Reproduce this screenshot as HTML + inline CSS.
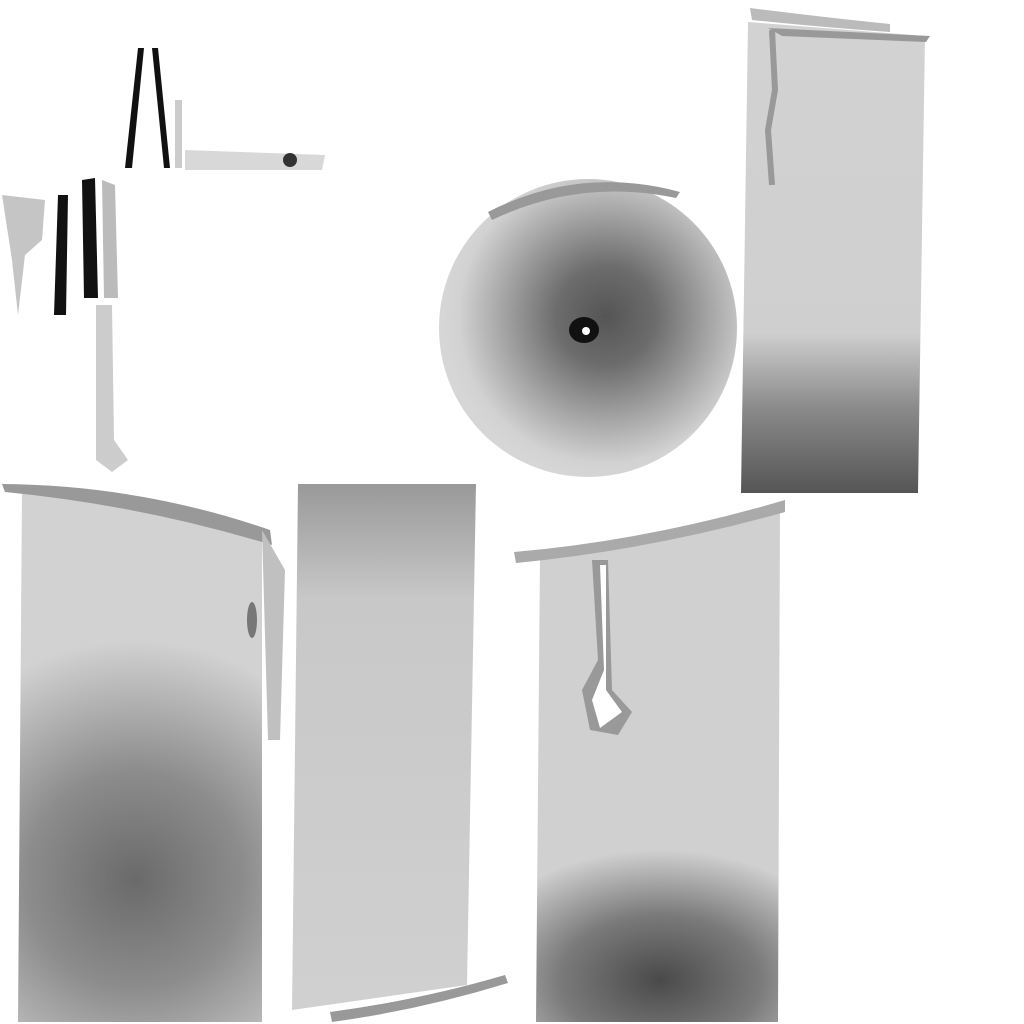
<!DOCTYPE html>
<html><head><meta charset="utf-8"><style>
html,body{margin:0;padding:0;background:#fff;width:1024px;height:1024px;overflow:hidden}
svg{display:block}
</style></head><body>
<svg width="1024" height="1024" viewBox="0 0 1024 1024" xmlns="http://www.w3.org/2000/svg">
<defs>
<linearGradient id="gTR" x1="0" y1="0" x2="0" y2="1">
<stop offset="0" stop-color="#d2d2d2"/><stop offset="0.66" stop-color="#cfcfcf"/><stop offset="0.82" stop-color="#8a8a8a"/><stop offset="1" stop-color="#555"/></linearGradient>
<radialGradient id="gC" cx="0.56" cy="0.46" r="0.55">
<stop offset="0" stop-color="#555"/><stop offset="0.3" stop-color="#6c6c6c"/><stop offset="0.65" stop-color="#a8a8a8"/><stop offset="0.9" stop-color="#d2d2d2"/><stop offset="1" stop-color="#d6d6d6"/></radialGradient>
<radialGradient id="gBL" cx="135" cy="880" r="240" gradientUnits="userSpaceOnUse">
<stop offset="0" stop-color="#6a6a6a"/><stop offset="0.45" stop-color="#8c8c8c"/><stop offset="1" stop-color="#d2d2d2"/></radialGradient>
<linearGradient id="gM" x1="0" y1="0" x2="0" y2="1">
<stop offset="0" stop-color="#999"/><stop offset="0.22" stop-color="#c8c8c8"/><stop offset="1" stop-color="#d0d0d0"/></linearGradient>
<radialGradient id="gBR" cx="660" cy="980" r="200" gradientUnits="userSpaceOnUse" gradientTransform="translate(660 980) scale(1 0.65) translate(-660 -980)">
<stop offset="0" stop-color="#4a4a4a"/><stop offset="0.5" stop-color="#7a7a7a"/><stop offset="1" stop-color="#d0d0d0"/></radialGradient>
</defs>
<g>
<polygon points="748,22 925,36 918,493 741,493" fill="url(#gTR)"/>
<path d="M750,8 Q830,18 890,24 L890,32 Q830,28 752,20 Z" fill="#bbb"/>
<path d="M768,28 L930,36 L926,42 L782,36 Z" fill="#999"/>
<path d="M772,30 L775,90 L768,130 L772,185" stroke="#999" stroke-width="6" fill="none"/>
</g>
<g>
<circle cx="588" cy="328" r="149" fill="url(#gC)"/>
<ellipse cx="584" cy="330" rx="15" ry="13" fill="#111"/>
<circle cx="586" cy="331" r="4" fill="#fff"/>
<path d="M488,212 Q580,165 680,192 L676,198 Q580,178 492,220 Z" fill="#999"/>
</g>
<g>
<polygon points="22,492 262,528 262,1022 18,1022" fill="url(#gBL)"/>
<path d="M2,484 Q140,485 270,530 L272,545 Q140,505 5,492 Z" fill="#999"/>
<path d="M262,530 L285,570 L280,740 L268,740 Z" fill="#c0c0c0"/>
<ellipse cx="252" cy="620" rx="5" ry="18" fill="#777"/>
</g>
<g>
<polygon points="298,484 476,484 467,985 292,1010" fill="url(#gM)"/>
<path d="M330,1012 Q420,1000 505,975 L508,983 Q420,1010 332,1022 Z" fill="#999"/>
</g>
<g>
<polygon points="540,555 780,508 778,1022 536,1022" fill="url(#gBR)"/>
<path d="M514,552 Q650,540 785,500 L785,512 Q650,550 516,563 Z" fill="#aaa"/>
<path d="M592,560 L608,560 L612,690 L632,712 L618,735 L590,730 L582,690 L598,660 Z" fill="#999"/>
<path d="M600,565 L606,565 L606,690 L622,712 L600,728 L592,700 L604,670 Z" fill="#fff"/>
</g>
<g>
<path d="M138,48 L144,48 L132,168 L125,168 Z" fill="#111"/>
<path d="M152,48 L158,48 L170,168 L164,168 Z" fill="#111"/>
<path d="M175,100 L182,100 L182,168 L175,168 Z" fill="#ccc"/>
<path d="M185,150 L325,155 L322,170 L185,170 Z" fill="#d8d8d8"/>
<circle cx="290" cy="160" r="7" fill="#333"/>
<path d="M58,195 L68,195 L66,315 L54,315 Z" fill="#111"/>
<path d="M82,180 L95,178 L98,298 L84,298 Z" fill="#111"/>
<path d="M102,180 L115,185 L118,298 L104,298 Z" fill="#bbb"/>
<path d="M2,195 L45,200 L42,240 L25,255 L18,315 L12,260 Z" fill="#c5c5c5"/>
<path d="M96,305 L112,305 L114,440 L128,460 L112,472 L96,460 Z" fill="#ccc"/>
</g>
</svg>
</body></html>
